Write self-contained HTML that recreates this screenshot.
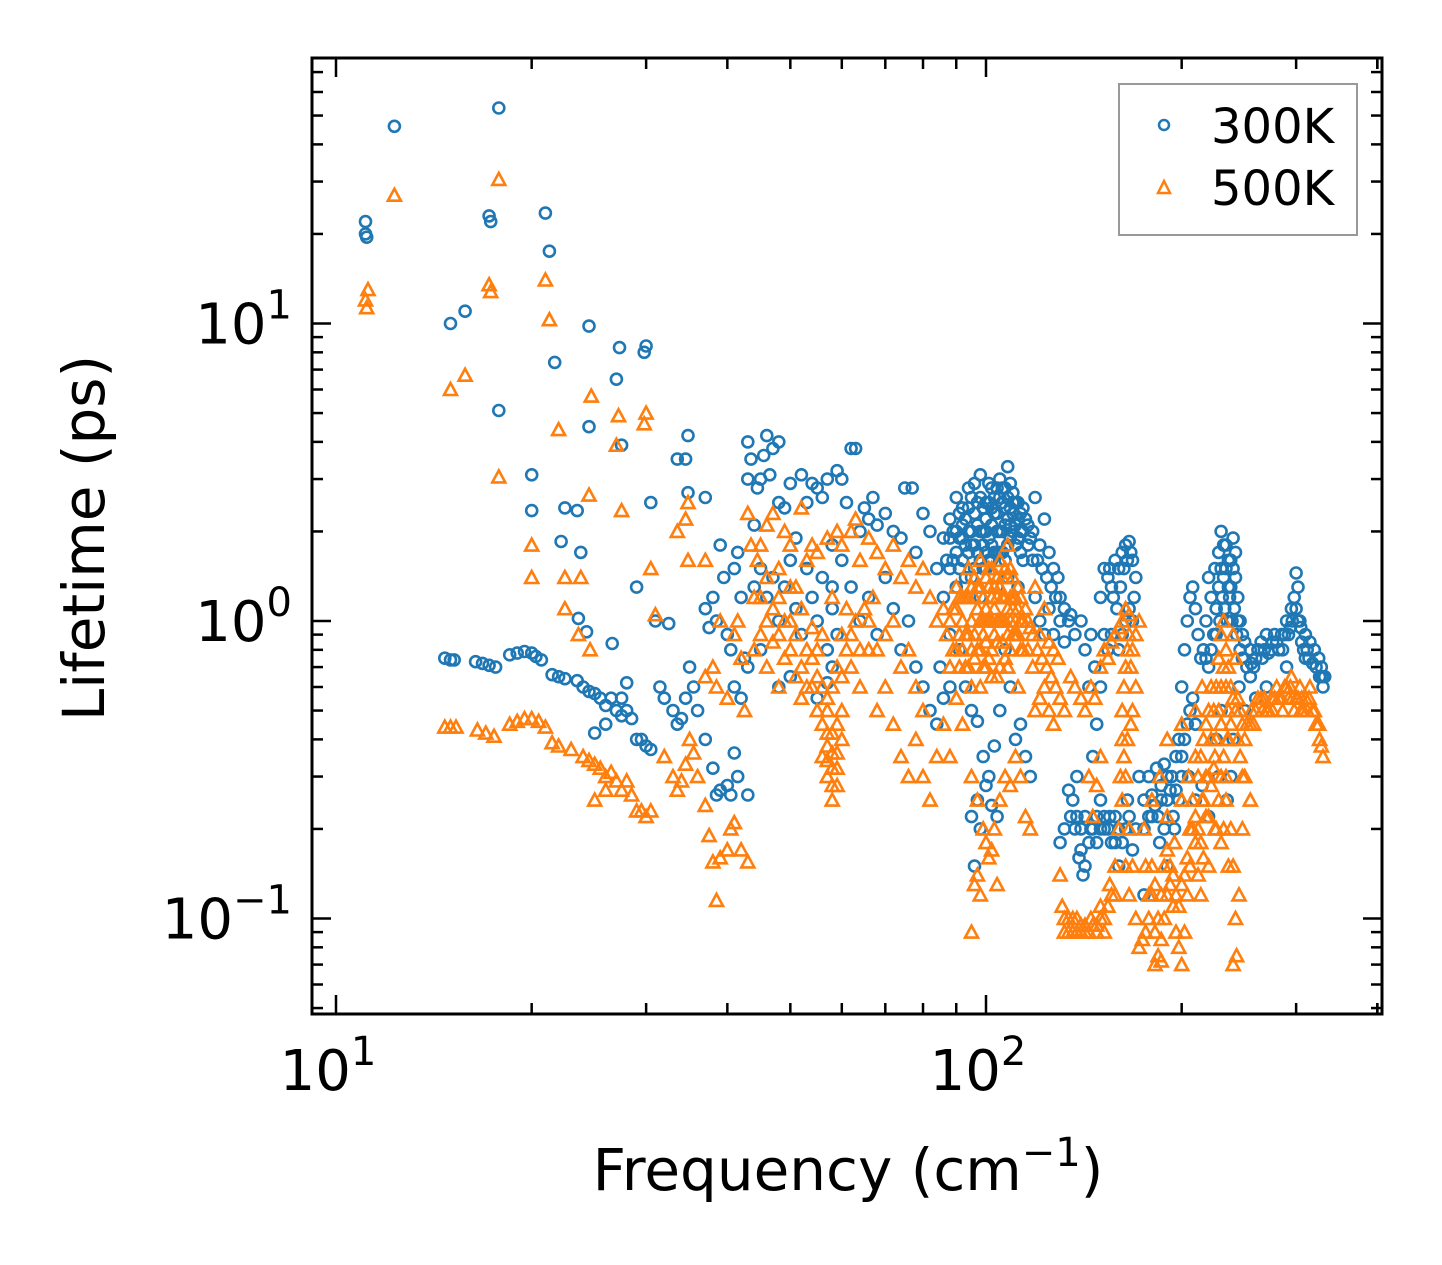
<!DOCTYPE html>
<html><head><meta charset="utf-8">
<style>
html,body{margin:0;padding:0;background:#fff;}
svg{display:block;font-family:"DejaVu Sans","Liberation Sans",sans-serif;}
</style></head>
<body>
<svg id="chart" width="1442" height="1265" viewBox="0 0 1442 1265" xmlns="http://www.w3.org/2000/svg">
<rect width="1442" height="1265" fill="#fff"/>
<g id="marks"></g>
<g id="axes"></g>
<g>
 <rect x="1119" y="84" width="238" height="151" fill="#fff" fill-opacity="0.8" stroke="#999" stroke-width="2"/>
 <circle cx="1164" cy="125" r="5" fill="none" stroke="#1f77b4" stroke-width="2.5"/>
 <text x="1211" y="143" font-size="48">300K</text>
 <polygon points="1164,181 1170,193 1158,193" fill="none" stroke="#ff7f0e" stroke-width="2.5"/>
 <text x="1211" y="205" font-size="48">500K</text>
</g>
<text x="848" y="1190" font-size="58" text-anchor="middle">Frequency (cm<tspan dy="-24" font-size="40">−1</tspan><tspan dy="24">)</tspan></text>
<text transform="translate(104,538) rotate(-90)" font-size="58" text-anchor="middle">Lifetime (ps)</text>
</svg>
<script>
const xTickValues=[10,100];
const yTickValues=[0.1,1,10];
const series300KMain=[[11.1,20],[11.1,22],[11.15,19.5],[12.3,46],[17.8,53],[17.2,23],[17.3,22],[21,23.5],[21.3,17.5],[15,10],[15.8,11],[17.8,5.1],[24.5,9.8],[21.7,7.4],[27.3,8.3],[27,6.5],[30,8.4],[29.8,8],[24.5,4.5],[27.5,3.9],[20,3.1],[20,2.35],[22.2,1.85],[22.5,2.4],[23.5,2.35],[23.8,1.7],[30.5,2.5],[29,1.3],[33.5,3.5],[34.5,3.5],[34.8,4.2],[34.8,2.7],[37,2.6],[31,1.0],[32.5,0.98],[23.6,1.02],[24.3,0.92],[26.6,0.84],
[14.7,0.75],[15,0.74],[15.2,0.74],[16.4,0.73],[16.8,0.72],[17.2,0.71],[17.6,0.7],[18.5,0.77],[19,0.78],[19.5,0.79],[20,0.78],[20.3,0.76],[20.7,0.74],[21.5,0.66],[22,0.65],[22.5,0.64],[23.5,0.63],[24,0.6],[24.5,0.58],[25,0.57],[25.5,0.55],[26,0.52],[26.5,0.55],[27,0.5],[27.5,0.48],[28,0.5],[28.5,0.47],[29,0.4],[29.5,0.4],[30,0.38],[30.5,0.37],[31.5,0.6],[32,0.55],[33,0.5],[33.5,0.45],[34,0.47],[34.5,0.55],[35,0.7],[35.5,0.6],[36,0.5],[37,0.4],[38,0.32],[38.5,0.26],[39,0.27],[40,0.28],[40.5,0.26],[41,0.36],[41.5,0.3],[43,0.26],[25,0.42],[26,0.45],[28,0.62],[27.5,0.55],
[37,1.1],[37.5,0.95],[38,1.2],[38.5,1.0],[39,1.8],[39.5,1.4],[40,0.9],[40.5,0.8],[41,1.5],[41.5,1.7],[42,1.2],[42.5,0.75],[43,4.0],[43,3.0],[43.5,3.5],[44,2.1],[44.5,2.8],[45,3.0],[45.5,3.6],[46,4.2],[46.5,3.1],[47,3.8],[48,2.5],[48,4.0],[49,2.4],[50,1.6],[50,2.9],[51,1.9],[52,3.1],[53,2.5],[54,2.9],[55,2.8],[56,2.6],[57,3.0],[58,1.8],[58,1.3],[59,3.2],[60,3.0],[61,2.5],[62,3.8],[63,3.8],[64,2.0],[65,2.4],[66,2.2],[67,2.6],[68,2.1],[70,2.3],[72,2.0],[74,1.9],[75,2.8],[77,2.8],[78,1.7],[80,2.3],[82,2.0],[84,1.5],[86,1.9],[44,1.3],[45,1.5],[46,1.2],[47,1.4],[48,1.0],[49,1.3],[51,1.1],[52,0.9],[53,1.5],[54,1.2],[55,1.0],[56,1.4],[57,0.8],[58,1.1],[59,0.9],[60,1.6],[62,1.3],[64,1.0],[66,1.2],[68,0.9],[70,1.4],[72,1.1],[74,0.8],[76,1.0],[78,0.7],[80,0.6],[82,0.5],[84,0.45],[86,0.55],[88,0.6],[57,0.62],[58,0.7],[55,0.55],[50,0.65],[48,0.6],[45,0.8],[43,0.7],[42,0.55],[41,0.6],
[88,2.2],[89,1.6],[90,2.6],[91,1.9],[92,2.4],[93,1.4],[94,2.8],[95,2.0],[96,1.5],[97,2.5],[98,3.1],[99,1.8],[100,2.2],[101,2.9],[102,1.6],[103,2.6],[104,2.0],[105,3.0],[106,1.7],[107,2.4],[108,3.3],[109,2.1],[110,2.7],[111,1.8],[112,2.5],[113,2.0],[115,2.2],[117,1.9],[119,2.6],[121,1.8],[123,2.2],[125,1.7],[127,1.5],[129,1.4],[96,2.9],[94,1.7],[92,1.9],[100,1.5],[104,1.3],[108,1.4],[112,1.3],[98,1.2],[102,2.4],[106,2.8],[110,2.3],[114,1.6],[90,1.3],[86,1.2],
[85,0.7],[88,0.9],[91,0.8],[93,0.6],[95,0.5],[97,0.46],[99,0.35],[101,0.3],[103,0.38],[105,0.5],[107,0.8],[109,0.6],[111,0.4],[113,0.45],[115,0.35],[117,0.3],[95,0.22],[96,0.15],[97,0.25],[98,0.2],[100,0.28],[102,0.24],[104,0.22],
[119,1.2],[121,1.0],[123,0.9],[125,1.1],[127,0.9],[130,1.0],[132,0.85],[135,1.05],[137,0.9],[140,1.0],[142,0.8],[145,0.9],[147,0.7],[150,1.2],[152,1.5],[154,1.4],[156,1.3],[158,1.6],[160,1.5],[162,1.7],[164,1.8],[166,1.85],[168,1.6],[170,1.4],[150,0.6],[148,0.45],[146,0.35],[144,0.6],[138,0.3],[136,0.25],[134,0.27],[132,0.2],[130,0.18],[140,0.17],[142,0.15],[145,0.2],[148,0.18],[150,0.25],[152,0.2],[155,0.22],[158,0.18],[160,0.15],[165,0.25],[170,0.2],[172,0.3],[175,0.25],[178,0.3],[180,0.22],[183,0.32],[186,0.28],[188,0.33],[190,0.25],[193,0.3],[196,0.35],[198,0.4],[200,0.6],[202,0.8],[204,1.0],[206,1.2],[208,1.3],[210,1.1],[212,0.9],[214,0.75],[216,0.8],[218,1.0],[220,1.4],[222,1.2],[225,1.5],[228,1.7],[230,2.0],[232,1.8],[234,1.5],[236,1.3],[238,1.6],[240,1.9],[242,1.4],[244,1.2],[246,1.0],[248,0.9],[250,0.85],[255,0.8],[260,0.75],[265,0.85],[270,0.9],[275,0.8],[280,0.85],[285,0.9],[290,1.0],[295,1.1],[300,1.45],[302,1.3],[305,0.95],[310,0.9],[315,0.85],[320,0.8],[325,0.75],[328,0.7],[330,0.6],[332,0.65],[226,0.4],[228,0.3],[230,0.5],[235,0.25],[238,0.3],[240,0.4],[250,0.5],[260,0.55],[200,0.35],[205,0.3],[210,0.25],[215,0.28],[190,0.15],[185,0.18],[175,0.12],[195,0.2],[220,0.22],[245,0.6],[255,0.65],[270,0.6],[290,0.7],[310,0.75]];
const series300KDense=[[90,2.0],[90,1.7],[91,2.3],[91,1.5],[92,2.1],[92,1.6],[93,2.2],[93,1.8],[94,2.4],[94,2.0],[95,2.6],[95,1.8],[95,1.4],[96,2.3],[96,1.8],[97,2.1],[97,1.7],[98,2.6],[98,2.0],[98,1.6],[99,2.4],[99,2.0],[99,1.5],[100,2.5],[100,2.0],[100,1.7],[101,2.5],[101,1.9],[101,1.6],[102,2.8],[102,2.1],[102,1.8],[103,2.3],[103,1.7],[104,2.8],[104,2.3],[104,1.7],[105,2.6],[105,2.0],[105,1.7],[106,2.5],[106,2.0],[107,2.8],[107,2.1],[107,1.6],[108,2.6],[108,2.2],[108,1.8],[109,2.9],[109,2.4],[109,1.9],[110,2.5],[110,2.0],[111,2.5],[111,2.1],[112,2.2],[112,1.9],[113,2.3],[113,1.7],[114,2.4],[114,2.0],[116,2.1],[116,1.8],[118,2.0],[118,1.6],[120,1.6],[122,1.5],[124,1.4],[126,1.3],[128,1.2],[130,1.2],[132,1.1],[134,1.0],[88,1.9],[88,1.5],[89,2.0],[87,1.6],
[155,1.5],[157,1.2],[159,1.1],[161,1.3],[163,1.5],[165,1.6],[167,1.7],[169,1.2],[160,0.8],[162,0.9],[164,1.0],[166,1.1],[168,1.0],[156,0.9],[152,0.9],[154,0.8],
[138,0.22],[140,0.2],[142,0.22],[144,0.18],[146,0.2],[148,0.22],[150,0.2],[152,0.22],[154,0.2],[156,0.18],[158,0.22],[160,0.2],[162,0.18],[164,0.2],[166,0.22],[168,0.17],[175,0.2],[178,0.22],[180,0.26],[182,0.24],[184,0.22],[186,0.25],[188,0.2],[190,0.3],[192,0.27],[194,0.22],[196,0.27],[198,0.25],[200,0.3],[202,0.4],[204,0.45],[206,0.5],[208,0.55],[210,0.45],[135,0.22],[137,0.2],[139,0.16],[141,0.14],
[226,1.1],[226,0.9],[228,1.3],[229,1.0],[230,1.5],[231,1.2],[232,1.4],[233,1.1],[234,1.8],[235,1.0],[236,1.6],[237,1.2],[238,1.3],[239,1.0],[240,1.5],[241,1.1],[242,1.7],[243,0.9],[244,1.0],[246,0.8],[248,0.75],[224,0.9],[222,0.8],[220,0.7],[218,0.75],
[252,0.7],[256,0.72],[258,0.7],[262,0.8],[266,0.75],[268,0.8],[272,0.78],[276,0.85],[278,0.9],[282,0.8],[286,0.8],[288,0.9],[292,0.9],[294,0.95],[296,1.0],[298,1.2],[300,1.1],[302,1.0],[304,1.0],[306,0.85],[308,0.8],[312,0.8],[314,0.75],[318,0.72],[322,0.7],[326,0.65],[329,0.65]];
const series500KMain=[[11.1,12],[11.15,11.3],[11.2,13],[12.3,27],[17.8,30.5],[17.2,13.5],[17.3,12.8],[21,14],[21.3,10.3],[15,6],[15.8,6.7],[17.8,3.05],[22,4.4],[24.7,5.7],[27.2,4.9],[27,3.9],[30,5],[29.8,4.6],[24.5,2.65],[27.5,2.35],[20,1.8],[20,1.4],[22.5,1.4],[23.8,1.4],[22.5,1.1],[30.5,1.5],[33.5,2.0],[34.5,2.2],[34.8,2.5],[34.8,1.6],[37,1.6],[31,1.05],[23.6,0.9],[24.6,0.8],
[14.7,0.44],[15,0.44],[15.3,0.44],[16.5,0.43],[17,0.42],[17.5,0.41],[18.5,0.45],[19,0.46],[19.5,0.47],[20,0.47],[20.5,0.46],[21,0.44],[21.5,0.39],[22,0.38],[23,0.37],[24,0.35],[24.5,0.34],[25,0.33],[25.5,0.32],[26,0.3],[26.5,0.31],[27,0.29],[27.5,0.27],[28,0.29],[28.5,0.26],[29,0.23],[29.5,0.23],[30,0.22],[30.5,0.23],[32,0.35],[33,0.3],[33.5,0.27],[34,0.29],[34.5,0.33],[35,0.4],[35.5,0.36],[36,0.3],[37,0.24],[37.5,0.19],[38,0.155],[38.5,0.115],[39,0.16],[40,0.17],[40.5,0.2],[41,0.21],[42,0.17],[43,0.155],[25,0.25],[26,0.27],
[37,0.65],[38,0.7],[38.5,0.6],[39,1.0],[40,0.55],[41,0.9],[41.5,1.0],[42,0.75],[42.5,0.5],[43,2.3],[43.5,1.8],[44,1.2],[44.5,1.6],[45,1.8],[46,2.1],[47,2.3],[48,1.5],[49,2.0],[50,1.0],[50,1.8],[51,1.3],[52,2.4],[53,1.6],[54,1.8],[55,1.7],[57,1.9],[58,1.2],[59,2.0],[60,1.8],[62,2.0],[63,2.2],[64,1.6],[66,1.9],[68,1.7],[70,1.5],[72,1.8],[74,1.4],[76,1.6],[78,1.3],[80,1.5],[82,1.2],[84,1.0],[86,1.1],[44,0.8],[45,0.9],[46,0.7],[47,0.85],[48,0.6],[49,0.75],[51,0.65],[52,0.55],[53,0.8],[54,0.6],[55,0.5],[56,0.45],[57,0.38],[58,0.32],[59,0.28],[60,0.5],[62,0.7],[64,0.6],[66,0.8],[68,0.5],[70,0.6],[72,0.45],[74,0.35],[76,0.3],[78,0.4],[80,0.3],[82,0.25],[84,0.35],[86,0.45],[88,0.35],[57,0.5],[58,0.6],[59,0.7],[60,0.9],[61,1.1],[56,0.9],[55,0.8],[58,0.42],[59,0.36],[57,0.3],[58,0.25],[50,1.3],[52,1.1],[54,0.95],[48,1.2],[46,1.0],
[88,1.0],[89,0.8],[90,1.3],[91,0.9],[92,1.2],[93,0.7],[94,1.5],[95,1.0],[96,0.75],[97,1.3],[98,1.6],[99,0.9],[100,1.1],[101,1.5],[102,0.8],[103,1.3],[104,1.0],[105,1.6],[106,0.85],[107,1.2],[108,1.8],[109,1.0],[110,1.4],[111,0.9],[112,1.3],[113,1.0],[115,1.1],[117,0.95],[119,1.3],[121,0.9],[123,1.1],[125,0.85],[127,0.8],[129,0.75],[96,1.4],[94,0.9],[100,0.7],[104,0.65],[108,0.7],[112,0.6],[98,0.6],[102,1.2],[106,1.4],[110,1.2],[114,0.8],
[90,0.55],[92,0.45],[95,0.3],[97,0.25],[99,0.2],[100,0.18],[101,0.16],[103,0.2],[105,0.25],[107,0.3],[109,0.28],[111,0.35],[113,0.3],[115,0.22],[117,0.2],[95,0.09],[96,0.13],[97,0.14],[98,0.12],[102,0.17],[104,0.13],
[119,0.5],[121,0.55],[123,0.6],[125,0.5],[127,0.45],[130,0.55],[132,0.5],[135,0.65],[137,0.6],[140,0.55],[142,0.5],[145,0.6],[147,0.55],[150,0.7],[152,0.8],[154,0.75],[156,0.85],[158,0.9],[160,0.95],[162,1.0],[164,1.1],[166,1.05],[168,0.8],[170,0.6],[150,0.35],[148,0.28],[146,0.22],[144,0.3],[130,0.14],[131,0.11],[132,0.09],[134,0.1],[136,0.09],[138,0.1],[140,0.095],[142,0.09],[145,0.1],[148,0.095],[150,0.11],[152,0.1],[155,0.13],[158,0.15],[160,0.2],[162,0.25],[164,0.3],[166,0.2],[168,0.15],[170,0.1],[172,0.08],[174,0.085],[176,0.09],[178,0.1],[180,0.12],[182,0.09],[184,0.075],[186,0.085],[188,0.1],[190,0.12],[192,0.15],[194,0.11],[196,0.09],[198,0.08],[200,0.07],[202,0.09],[204,0.12],[206,0.15],[208,0.2],[210,0.18],[212,0.14],[214,0.12],[216,0.16],[218,0.22],[220,0.3],[222,0.4],[224,0.5],[226,0.6],[228,0.75],[230,0.9],[232,1.0],[234,0.8],[236,0.7],[238,0.6],[240,0.9],[242,0.75],[244,0.55],[246,0.5],[248,0.45],[250,0.4],[255,0.45],[260,0.5],[265,0.55],[270,0.5],[275,0.55],[280,0.6],[285,0.55],[290,0.6],[295,0.65],[300,0.55],[305,0.5],[310,0.55],[315,0.6],[320,0.5],[325,0.45],[328,0.38],[330,0.35],[175,0.2],[180,0.25],[185,0.3],[190,0.22],[195,0.18],[200,0.25],[205,0.3],[210,0.35],[215,0.25],[220,0.15],[225,0.2],[230,0.3],[235,0.4],[238,0.2],[240,0.15],[242,0.1],[245,0.12],[248,0.2],[250,0.3],[255,0.25],[190,0.4],[200,0.45],[210,0.5],[215,0.6],[225,0.35],[240,0.07],[243,0.075],[182,0.07],[186,0.072],[168,0.5],[170,0.9],[172,1.0]];
const series500KDense=[[90,1.1],[90,0.8],[91,1.2],[91,0.7],[92,1.0],[92,0.8],[93,1.2],[93,0.9],[94,1.2],[94,0.7],[95,1.3],[95,0.8],[95,0.6],[96,1.2],[96,0.9],[97,1.1],[97,0.8],[98,1.3],[98,1.0],[98,0.8],[99,1.2],[99,1.0],[99,0.7],[100,1.4],[100,1.0],[100,0.85],[101,1.3],[101,1.0],[101,0.75],[102,1.5],[102,1.0],[102,0.65],[103,1.1],[103,0.9],[104,1.4],[104,1.2],[104,0.85],[105,1.3],[105,1.0],[105,0.7],[106,1.2],[106,1.0],[107,1.5],[107,1.0],[107,0.75],[108,1.4],[108,1.1],[108,0.9],[109,1.5],[109,1.2],[109,0.8],[110,1.1],[110,0.9],[111,1.2],[111,1.0],[112,1.1],[112,0.9],[113,1.2],[113,0.8],[114,1.0],[116,1.0],[116,0.8],[118,0.9],[118,0.7],[120,0.8],[122,0.75],[124,0.7],[126,0.65],[128,0.6],[89,1.1],[87,0.9],[88,0.7],
[45,1.2],[46,1.4],[47,1.1],[48,0.9],[49,1.0],[50,0.8],[51,0.9],[52,0.7],[53,0.6],[54,0.75],[55,0.65],[56,0.6],[57,0.55],[56,0.35],[57,0.42],[58,0.28],[59,0.32],[58,0.36],[57,0.34],[59,0.45],[60,0.65],[60,0.4],[61,0.8],[62,0.9],[63,1.0],[64,0.8],[65,1.1],[66,1.0],[67,1.2],[68,0.8],[70,0.9],[72,1.0],[74,0.7],[76,0.8],[78,0.6],[80,0.5],
[132,0.1],[134,0.09],[136,0.1],[138,0.09],[140,0.09],[142,0.095],[144,0.09],[146,0.095],[148,0.09],[150,0.1],[152,0.09],[154,0.11],[156,0.12],[158,0.12],
[162,0.5],[163,0.6],[164,0.7],[165,0.8],[166,0.9],[167,0.7],[163,0.35],[165,0.4],[167,0.45],[161,0.3],[162,0.4],[164,0.15],[166,0.12],
[176,0.15],[178,0.12],[180,0.15],[182,0.13],[184,0.1],[186,0.12],[188,0.15],[190,0.17],[192,0.13],[194,0.14],[196,0.12],[198,0.11],[200,0.13],[202,0.14],[204,0.16],[206,0.2],[208,0.25],[210,0.22],[212,0.2],[214,0.18],[216,0.25],[218,0.3],[220,0.22],[222,0.28],[224,0.32],[226,0.4],[228,0.5],[230,0.6],[232,0.7],[234,0.6],[236,0.5],[238,0.45],[240,0.55],[242,0.5],[244,0.4],[246,0.35],[248,0.3],[226,0.2],[228,0.25],[230,0.18],[232,0.2],[234,0.25],[236,0.15],[230,0.45],[232,0.35],[234,0.3],[236,0.4],[212,0.3],[214,0.35],[216,0.4],[218,0.45],[220,0.5],[222,0.6],
[252,0.45],[256,0.5],[258,0.45],[262,0.55],[266,0.5],[268,0.55],[272,0.5],[276,0.5],[278,0.55],[282,0.55],[286,0.5],[288,0.6],[292,0.55],[294,0.6],[296,0.55],[298,0.5],[302,0.55],[304,0.6],[306,0.55],[308,0.5],[312,0.5],[314,0.55],[318,0.5],[322,0.45],[326,0.4]];
const series300K=series300KMain.concat(series300KDense);
const series500K=series500KMain.concat(series500KDense);

const X0=336, XDEC=650, Y0=621, YDEC=297.5;
const L=312, R=1382, T=58, B=1014;
function xScale(f){return X0+XDEC*(Math.log10(f)-1);}
function yScale(t){return Y0-YDEC*Math.log10(t);}
const NS='http://www.w3.org/2000/svg';
function mk(tag,attrs,parent){const e=document.createElementNS(NS,tag);for(const k in attrs)e.setAttribute(k,attrs[k]);parent.appendChild(e);return e;}
const marks=document.getElementById('marks');
const g3=mk('g',{},marks);


series300K.forEach(p=>{
 const c=mk('circle',{cx:xScale(p[0]).toFixed(1),cy:yScale(p[1]).toFixed(1),r:5.5,fill:'none',stroke:'#1f77b4','stroke-width':2.6},g3);
 
 
});
const g5=mk('g',{},marks);


series500K.forEach(p=>{
 const x=xScale(p[0]),y=yScale(p[1]);
 const t=mk('polygon',{points:`${x.toFixed(1)},${(y-6.5).toFixed(1)} ${(x+6.5).toFixed(1)},${(y+5.5).toFixed(1)} ${(x-6.5).toFixed(1)},${(y+5.5).toFixed(1)}`,fill:'none',stroke:'#ff7f0e','stroke-width':2.6},g5);
 
 
});
const ax=document.getElementById('axes');
const frame=mk('rect',{x:L,y:T,width:R-L,height:B-T,fill:'none',stroke:'#000','stroke-width':3},ax);


function line(x1,y1,x2,y2){mk('line',{x1,y1,x2,y2,stroke:'#000','stroke-width':2.5},ax);}
for(let d=1;d<=2;d++){for(let m=1;m<=9;m++){const f=m*Math.pow(10,d);const x=xScale(f);if(x<L||x>R)continue;const len=m===1?19:11;line(x,B,x,B-len);line(x,T,x,T+len);}}
[400].forEach(f=>{const x=xScale(f);line(x,B,x,B-11);line(x,T,x,T+11);});
for(let d=-2;d<=1;d++){for(let m=1;m<=9;m++){const v=m*Math.pow(10,d);const y=yScale(v);if(y<T||y>B)continue;const len=m===1?19:11;line(L,y,L+len,y);line(R,y,R-len,y);}}
xTickValues.forEach(v=>{
 const t=mk('text',{x:xScale(v)-8,y:1090,'font-size':56,'text-anchor':'middle'},ax);
 
 
 t.innerHTML='10<tspan dy="-25" font-size="40">'+Math.round(Math.log10(v))+'</tspan>';
});
yTickValues.forEach(v=>{
 const e=Math.round(Math.log10(v));
 const t=mk('text',{x:292,y:yScale(v)+20,'font-size':56,'text-anchor':'end'},ax);
 
 
 t.innerHTML='10<tspan dy="-25" font-size="40">'+(e<0?'−'+(-e):e)+'</tspan>';
});
</script>
</body></html>
